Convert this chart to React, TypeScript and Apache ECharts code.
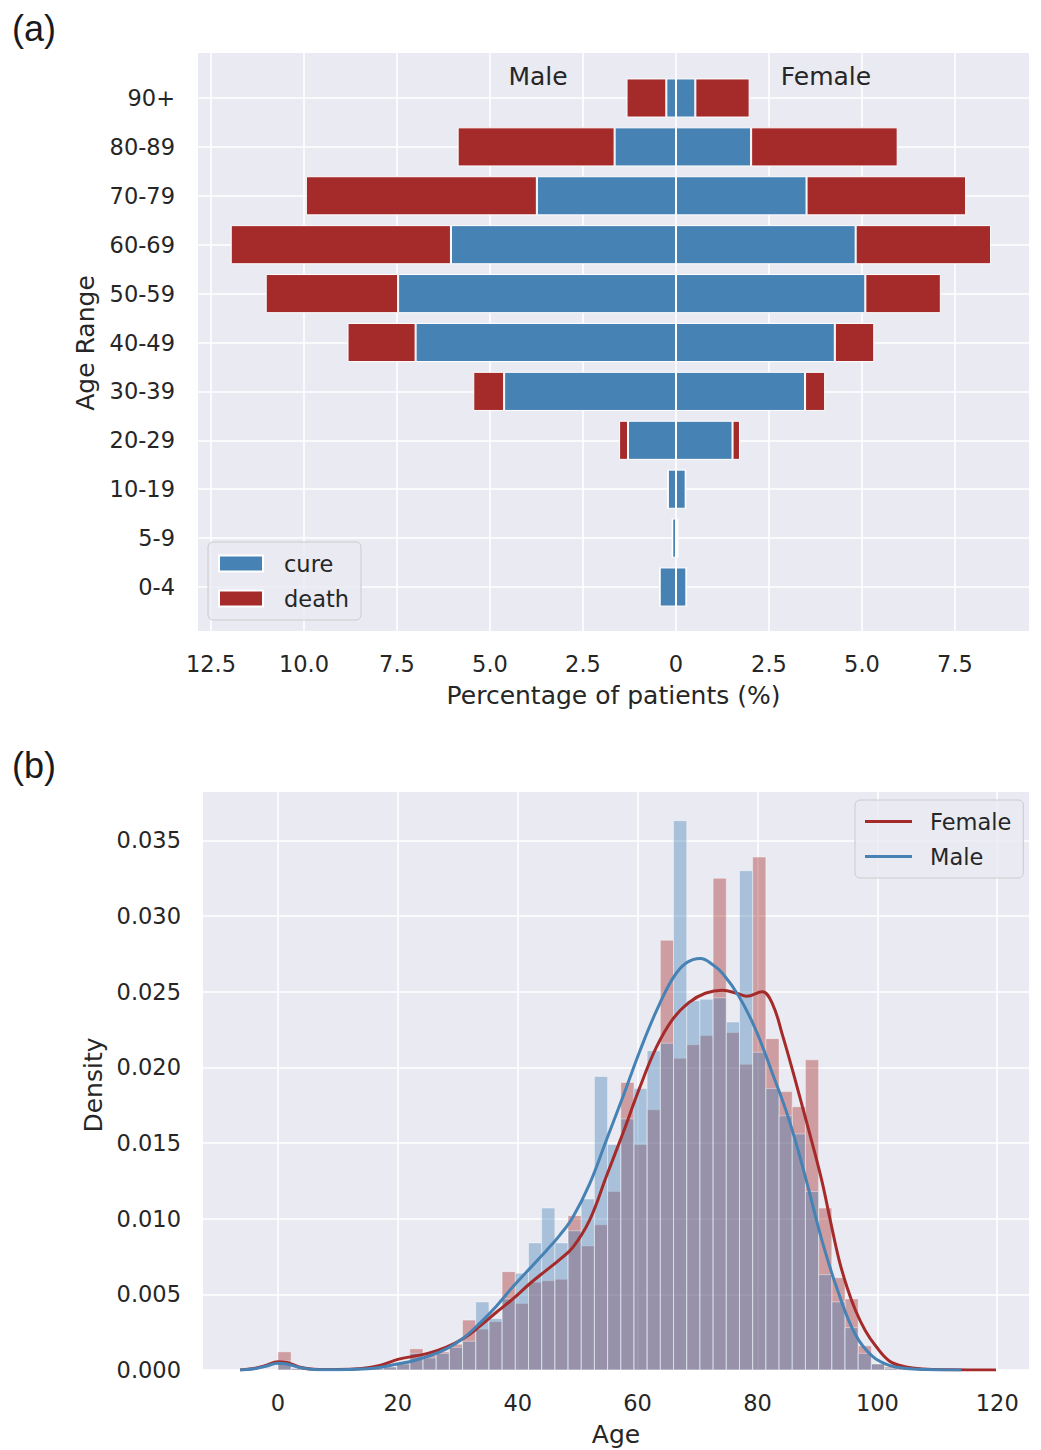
import React, { useEffect, useRef } from 'react';
import * as echarts from 'echarts';

// ---------- Panel (a): population pyramid ----------
const ageGroups = ['0-4', '5-9', '10-19', '20-29', '30-39', '40-49', '50-59', '60-69', '70-79', '80-89', '90+'];
const maleCure = [0.44, 0.10, 0.22, 1.29, 4.62, 7.00, 7.47, 6.05, 3.74, 1.65, 0.26];
const maleDeath = [0, 0, 0, 0.24, 0.83, 1.83, 3.56, 5.92, 6.21, 4.22, 1.07];
const femaleCure = [0.28, 0.05, 0.26, 1.52, 3.47, 4.27, 5.09, 4.83, 3.51, 2.02, 0.52];
const femaleDeath = [0, 0, 0, 0.20, 0.54, 1.06, 2.03, 3.64, 4.29, 3.94, 1.46];

// ---------- Panel (b): age density ----------
const binStart = 0;
const binWidth = 2.2;
const femaleDensity = [
  0.0012, 0.0001, 0, 0, 0, 0, 0, 0.0001, 0.0002, 0.0005,
  0.0014, 0.0010, 0.0012, 0.0017, 0.0033, 0.0027, 0.0032, 0.0065, 0.0044, 0.0058,
  0.0059, 0.0060, 0.0102, 0.0082, 0.0096, 0.0118, 0.0190, 0.0149, 0.0172, 0.0284,
  0.0206, 0.0215, 0.0221, 0.0325, 0.0223, 0.0202, 0.0339, 0.0219, 0.0184, 0.0174,
  0.0205, 0.0107, 0.0061, 0.0047, 0.0016, 0.0004, 0.0002, 0.0001,
];
const maleDensity = [
  0.0006, 0.0001, 0, 0, 0, 0, 0, 0.0001, 0.0002, 0.0004,
  0.0011, 0.0008, 0.0011, 0.0015, 0.0019, 0.0045, 0.0034, 0.0047, 0.0064, 0.0084,
  0.0107, 0.0084, 0.0092, 0.0113, 0.0194, 0.0149, 0.0166, 0.0186, 0.0211, 0.0216,
  0.0363, 0.0244, 0.0245, 0.0246, 0.0230, 0.0330, 0.0210, 0.0186, 0.0168, 0.0156,
  0.0118, 0.0063, 0.0045, 0.0028, 0.0011, 0.0004, 0.0001,
];
const femaleKde: [number, number][] = [
  [-6.3, 0], [-4, 0.0001], [-2, 0.0003], [0, 0.00055], [1.5, 0.0005], [3.5, 0.0002], [6, 0.00005],
  [10, 0.00003], [14, 0.0001], [17, 0.0003], [20, 0.0007], [22.5, 0.0009], [25, 0.0011], [28, 0.0015],
  [31, 0.0021], [33.7, 0.0029], [36.4, 0.0038], [39.2, 0.0047], [42, 0.0057], [44.8, 0.0066],
  [47, 0.0073], [49.2, 0.0081], [52, 0.0099], [54.8, 0.0128], [57.6, 0.0157], [60.3, 0.0186],
  [63.1, 0.0213], [65.9, 0.0232], [68.6, 0.0243], [71.3, 0.0249], [74.2, 0.0251], [76.5, 0.0249],
  [78.2, 0.0247], [80.8, 0.025], [82.5, 0.0242], [84.2, 0.0221], [86, 0.0196], [87.5, 0.0174],
  [89.2, 0.0149], [90.8, 0.0124], [92.2, 0.0098], [93.6, 0.0073], [95, 0.0054], [96.4, 0.0039],
  [98, 0.0026], [99.7, 0.0016], [102, 0.0006], [104.8, 0.0002], [107.6, 0.00007], [112, 0.00002],
  [119.8, 0],
];
const maleKde: [number, number][] = [
  [-6.3, 0], [-4, 0.00008], [-2, 0.00025], [0, 0.00045], [1.5, 0.0004], [3.5, 0.00018], [6, 0.00004],
  [10, 0.00002], [14, 0.00006], [16.7, 0.00015], [20, 0.0004], [22.5, 0.0006], [25, 0.0009],
  [28.1, 0.0014], [30.9, 0.0021], [33.7, 0.0031], [36.4, 0.0042], [39.2, 0.0055], [42, 0.0067],
  [44.8, 0.0079], [47, 0.0089], [49.2, 0.0101], [52, 0.0123], [54.8, 0.0152], [57.6, 0.0181],
  [60.3, 0.021], [63.1, 0.0237], [65.9, 0.0259], [68.1, 0.0269], [70.5, 0.0272], [72.5, 0.0268],
  [74.2, 0.0262], [76.9, 0.0247], [79.7, 0.0225], [82.5, 0.0196], [85.3, 0.0165], [88.1, 0.0126],
  [90.8, 0.0085], [93.6, 0.005], [96.4, 0.0023], [99.2, 0.0009], [102, 0.0003], [104.8, 0.0001],
  [108, 0.00003], [114, 0],
];

// ---------- styles / layout ----------
const BLUE = '#4682b4';
const RED = '#a52a2a';
const BG = '#eaeaf2';
const TXT = '#262626';
const FONT = 'DejaVu Sans';
const TICK = 22.5;
const LABEL = 25;

const topPlot = { left: 198, right: 1029, top: 53, bottom: 631, xMin: -12.85, xMax: 9.49 };
const topRows = { top: 98, bottom: 587 };
const botPlot = { left: 203, right: 1029, top: 792, bottom: 1370, xMin: -12.5, xMax: 125.3, yMax: 0.0382 };

export default function App() {
  const ref = useRef<HTMLDivElement>(null);
  useEffect(() => {
    if (!ref.current) return;
    const chart = echarts.init(ref.current, null, { renderer: 'svg' });

    const tsx = (topPlot.right - topPlot.left) / (topPlot.xMax - topPlot.xMin);
    const tickGridLeft = topPlot.left + (-12.5 - topPlot.xMin) * tsx;
    const bsx = (botPlot.right - botPlot.left) / (botPlot.xMax - botPlot.xMin);
    const bTickLeft = botPlot.left + (0 - botPlot.xMin) * bsx;
    const bsy = (botPlot.bottom - botPlot.top) / botPlot.yMax;
    const bDataTop = botPlot.bottom - 0.04 * bsy;

    const tickLabel = { color: TXT, fontSize: TICK, fontFamily: FONT };
    const white = { show: true, lineStyle: { color: '#ffffff', width: 1.6 } };

    const histSeries = (name: string, vals: number[], color: string) => ({
      type: 'custom',
      name,
      xAxisIndex: 3,
      yAxisIndex: 3,
      silent: true,
      data: vals.map((h, k) => [binStart + k * binWidth, binStart + (k + 1) * binWidth, h]),
      encode: { x: [0, 1], y: 2 },
      renderItem: (_p: any, api: any) => {
        const a = api.coord([api.value(0), api.value(2)]);
        const b = api.coord([api.value(1), 0]);
        return {
          type: 'rect',
          shape: { x: a[0], y: a[1], width: b[0] - a[0], height: b[1] - a[1] },
          style: { fill: color, opacity: 0.4, stroke: '#ffffff', lineWidth: 1 },
        };
      },
    });

    const barBase = {
      type: 'bar',
      xAxisIndex: 1,
      yAxisIndex: 1,
      barWidth: '80%',
      barGap: '-100%',
      silent: true,
    };

    const legendBase = {
      orient: 'vertical',
      icon: 'rect',
      padding: [10, 12, 10, 10],
      backgroundColor: 'rgba(234,234,242,0.8)',
      borderColor: '#cccccc',
      borderWidth: 1,
      borderRadius: 5,
      selectedMode: false,
    };

    const option: any = {
      animation: false,
      backgroundColor: '#ffffff',
      textStyle: { fontFamily: FONT },
      grid: [
        { left: tickGridLeft, width: 20 * tsx, top: topPlot.top, height: topPlot.bottom - topPlot.top },
        { left: topPlot.left, width: topPlot.right - topPlot.left, top: topRows.top, height: topRows.bottom - topRows.top },
        { left: bTickLeft, width: 120 * bsx, top: botPlot.top, height: botPlot.bottom - botPlot.top },
        { left: botPlot.left, width: botPlot.right - botPlot.left, top: bDataTop, height: botPlot.bottom - bDataTop },
      ],
      xAxis: [
        {
          gridIndex: 0, type: 'value', min: -12.5, max: 7.5, interval: 2.5,
          axisLine: { show: false }, axisTick: { show: false }, splitLine: white,
          axisLabel: { ...tickLabel, margin: 21, formatter: (v: number) => (v === 0 ? '0' : Math.abs(v).toFixed(1)) },
        },
        { gridIndex: 1, type: 'value', min: topPlot.xMin, max: topPlot.xMax, show: false },
        {
          gridIndex: 2, type: 'value', min: 0, max: 120, interval: 20,
          axisLine: { show: false }, axisTick: { show: false }, splitLine: white,
          axisLabel: { ...tickLabel, margin: 21 },
        },
        { gridIndex: 3, type: 'value', min: botPlot.xMin, max: botPlot.xMax, show: false },
      ],
      yAxis: [
        { gridIndex: 0, type: 'value', show: false },
        {
          gridIndex: 1, type: 'category', data: ageGroups, boundaryGap: false,
          axisLine: { show: false }, axisTick: { show: false }, splitLine: white,
          axisLabel: { ...tickLabel, margin: 23 },
        },
        { gridIndex: 2, type: 'value', show: false },
        {
          gridIndex: 3, type: 'value', min: 0, max: 0.04, interval: 0.005,
          axisLine: { show: false }, axisTick: { show: false }, splitLine: white,
          axisLabel: {
            ...tickLabel, margin: 22,
            formatter: (v: number) => (v > botPlot.yMax ? '' : v.toFixed(3)),
          },
        },
      ],
      legend: [
        {
          ...legendBase,
          data: ['cure', 'death'], left: 208, top: 542,
          itemWidth: 44, itemHeight: 16, itemGap: 12,
          textStyle: { color: TXT, fontSize: TICK, fontFamily: FONT, padding: [0, 0, 0, 16] },
        },
        {
          ...legendBase,
          data: ['Female', 'Male'], left: 855, top: 800,
          itemWidth: 47, itemHeight: 3, itemGap: 12,
          textStyle: { color: TXT, fontSize: TICK, fontFamily: FONT, padding: [0, 0, 0, 13] },
        },
      ],
      series: [
        { ...barBase, name: 'cure', stack: 'male', data: maleCure.map((v) => -v),
          itemStyle: { color: BLUE, borderColor: '#ffffff', borderWidth: 1 } },
        { ...barBase, name: 'death', stack: 'male', data: maleDeath.map((v) => -v),
          itemStyle: { color: RED, borderColor: '#ffffff', borderWidth: 1 } },
        { ...barBase, name: 'cure', stack: 'female', data: femaleCure,
          itemStyle: { color: BLUE, borderColor: '#ffffff', borderWidth: 1 } },
        { ...barBase, name: 'death', stack: 'female', data: femaleDeath,
          itemStyle: { color: RED, borderColor: '#ffffff', borderWidth: 1 } },
        histSeries('Female hist', femaleDensity, RED),
        {
          type: 'line', name: 'Female', xAxisIndex: 3, yAxisIndex: 3, data: femaleKde,
          smooth: 0.4, showSymbol: false, symbol: 'none', silent: true,
          lineStyle: { color: RED, width: 3 }, itemStyle: { color: RED },
        },
        histSeries('Male hist', maleDensity, BLUE),
        {
          type: 'line', name: 'Male', xAxisIndex: 3, yAxisIndex: 3, data: maleKde,
          smooth: 0.4, showSymbol: false, symbol: 'none', silent: true,
          lineStyle: { color: BLUE, width: 3 }, itemStyle: { color: BLUE },
        },
      ],
      graphic: [
        { type: 'rect', z: -10, silent: true,
          shape: { x: topPlot.left, y: topPlot.top, width: topPlot.right - topPlot.left, height: topPlot.bottom - topPlot.top },
          style: { fill: BG } },
        { type: 'rect', z: -10, silent: true,
          shape: { x: botPlot.left, y: botPlot.top, width: botPlot.right - botPlot.left, height: botPlot.bottom - botPlot.top },
          style: { fill: BG } },
        { type: 'text', x: 12, y: 28, z: 10,
          style: { text: '(a)', fill: '#1a1a1a', font: '36px "Liberation Sans"', verticalAlign: 'middle' } },
        { type: 'text', x: 12, y: 765, z: 10,
          style: { text: '(b)', fill: '#1a1a1a', font: '36px "Liberation Sans"', verticalAlign: 'middle' } },
        { type: 'text', x: 538, y: 76, z: 10,
          style: { text: 'Male', fill: TXT, font: `${LABEL}px "${FONT}"`, align: 'center', verticalAlign: 'middle' } },
        { type: 'text', x: 826, y: 76, z: 10,
          style: { text: 'Female', fill: TXT, font: `${LABEL}px "${FONT}"`, align: 'center', verticalAlign: 'middle' } },
        { type: 'text', x: (topPlot.left + topPlot.right) / 2, y: 695, z: 10,
          style: { text: 'Percentage of patients (%)', fill: TXT, font: `${LABEL}px "${FONT}"`, align: 'center', verticalAlign: 'middle' } },
        { type: 'text', x: 85, y: 343, z: 10, rotation: Math.PI / 2,
          style: { text: 'Age Range', fill: TXT, font: `${LABEL}px "${FONT}"`, align: 'center', verticalAlign: 'middle' } },
        { type: 'text', x: 93, y: 1085, z: 10, rotation: Math.PI / 2,
          style: { text: 'Density', fill: TXT, font: `${LABEL}px "${FONT}"`, align: 'center', verticalAlign: 'middle' } },
        { type: 'text', x: (botPlot.left + botPlot.right) / 2, y: 1434, z: 10,
          style: { text: 'Age', fill: TXT, font: `${LABEL}px "${FONT}"`, align: 'center', verticalAlign: 'middle' } },
      ],
    };
    chart.setOption(option);
    return () => chart.dispose();
  }, []);

  return <div ref={ref} style={{ position: 'absolute', left: 0, top: 0, width: 1041, height: 1450 }} />;
}
